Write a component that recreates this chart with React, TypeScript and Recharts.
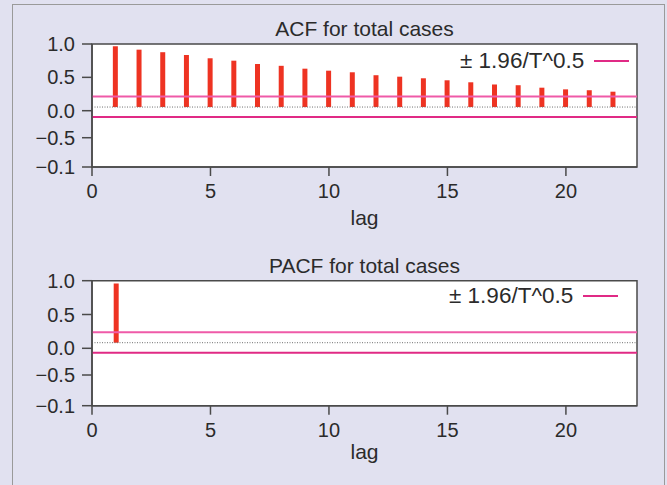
import React from 'react';
import { ComposedChart, Bar, XAxis, YAxis, ReferenceLine, ReferenceArea, Legend } from 'recharts';

// ---- data ----
const lags = [1, 2, 3, 4, 5, 6, 7, 8, 9, 10, 11, 12, 13, 14, 15, 16, 17, 18, 19, 20, 21, 22];
const acfValues = [0.966, 0.915, 0.877, 0.835, 0.786, 0.75, 0.70, 0.673, 0.63, 0.60, 0.576, 0.532, 0.51, 0.486, 0.456, 0.426, 0.393, 0.382, 0.345, 0.32, 0.307, 0.285];
const pacfLags = [1];
const pacfValues = [0.96];
const xTicks = [0, 5, 10, 15, 20];
const yTickLabels = ['1.0', '0.5', '0.0', '\u22120.5', '\u22120.1'];
const acfYTicks = [1.0, 0.5, 0.0, -0.405, -0.844];
const pacfYTicks = [1.0, 0.5, 0.0, -0.395, -0.849];
const acfBase = 0.055;
const acfBand = [0.213, -0.094];
const pacfBase = 0.083;
const pacfBand = [0.237, -0.065];
const acfTitle = 'ACF for total cases';
const pacfTitle = 'PACF for total cases';
const legendLabel = '\u00b1 1.96/T^0.5';
const xLabel = 'lag';

const FONT = '"Liberation Sans", Arial, Helvetica, sans-serif';
const TEXT = '#2b2b2b';
const BAR = '#ee3322';
const PINK_UP = '#ef5aa8';
const PINK_LO = '#e02a85';
const AXIS = '#4a4a4a';

type PanelProps = {
  title: string;
  xs: number[];
  values: number[];
  base: number;
  band: number[];
  yTicks: number[];
  top: number;
  marginTop: number;
  plotHeight: number;
  lagOffset: number;
  titleY: number;
  legendTop: number;
  legendLeft: number;
};

const LegendContent = () => (
  <div style={{ display: 'flex', alignItems: 'center', fontFamily: FONT, fontSize: 22.5, color: TEXT, whiteSpace: 'nowrap' }}>
    <span>{legendLabel}</span>
    <svg width={44} height={6} style={{ marginLeft: 10 }}>
      <line x1={0} y1={3} x2={35} y2={3} stroke={PINK_LO} strokeWidth={2} />
    </svg>
  </div>
);

const Panel = (p: PanelProps) => {
  const data = p.xs.map((lag, i) => ({ lag, range: [p.base, p.values[i]] }));
  const H = 240;
  const yMin = p.yTicks[p.yTicks.length - 1];
  const axisH = H - p.marginTop - p.plotHeight;
  return (
    <div style={{ position: 'absolute', left: 0, top: p.top, width: 667, height: H }}>
      <ComposedChart width={667} height={H} data={data} margin={{ top: p.marginTop, right: 30, bottom: 0, left: 20 }}>
        <XAxis
          type="number"
          dataKey="lag"
          domain={[0, 23]}
          ticks={xTicks}
          allowDataOverflow
          height={axisH}
          tickSize={9}
          tickMargin={8}
          stroke={AXIS}
          strokeWidth={1.5}
          tick={{ fill: TEXT, fontSize: 20, fontFamily: FONT }}
          label={{ value: xLabel, position: 'insideBottom', offset: p.lagOffset, fill: TEXT, fontSize: 21, fontFamily: FONT }}
        />
        <YAxis
          type="number"
          domain={[yMin, 1.0]}
          ticks={p.yTicks}
          interval={0}
          allowDataOverflow
          width={72}
          tickSize={10}
          tickMargin={7}
          stroke={AXIS}
          strokeWidth={1.5}
          tickFormatter={(_v: number, i: number) => yTickLabels[i]}
          tick={{ fill: TEXT, fontSize: 20, fontFamily: FONT }}
        />
        <ReferenceArea x1={0} x2={23} y1={yMin} y2={1.0} fill="#ffffff" fillOpacity={1} stroke={AXIS} strokeWidth={1.5} ifOverflow="visible" />
        <ReferenceLine y={p.base} stroke="#6f6f6f" strokeWidth={1} strokeDasharray="1 1.5" />
        <ReferenceLine y={p.band[0]} stroke={PINK_UP} strokeWidth={2} />
        <ReferenceLine y={p.band[1]} stroke={PINK_LO} strokeWidth={2} />
        <Bar dataKey="range" fill={BAR} barSize={5} isAnimationActive={false} />
        <Legend
          layout="horizontal"
          verticalAlign="middle"
          align="center"
          content={LegendContent}
          wrapperStyle={{ position: 'absolute', top: p.legendTop, left: p.legendLeft, width: 'auto', right: 'auto' }}
        />
        <text x={364.5} y={p.titleY} textAnchor="middle" fill={TEXT} fontSize={21} fontFamily={FONT}>
          {p.title}
        </text>
      </ComposedChart>
    </div>
  );
};

export default function App() {
  return (
    <div style={{ position: 'absolute', left: 0, top: 0, width: 667, height: 485, background: '#e1e1f0', overflow: 'hidden' }}>
      <div style={{ position: 'absolute', left: 12, top: 4, width: 653, height: 500, border: '1px solid #9a9a9a', boxSizing: 'border-box' }} />
      <Panel
        title={acfTitle}
        xs={lags}
        values={acfValues}
        base={acfBase}
        band={acfBand}
        yTicks={acfYTicks}
        top={0}
        marginTop={44}
        plotHeight={123}
        lagOffset={15}
        titleY={36}
        legendTop={48}
        legendLeft={460}
      />
      <Panel
        title={pacfTitle}
        xs={pacfLags}
        values={pacfValues}
        base={pacfBase}
        band={pacfBand}
        yTicks={pacfYTicks}
        top={240}
        marginTop={40.7}
        plotHeight={125}
        lagOffset={21}
        titleY={33}
        legendTop={43}
        legendLeft={449}
      />
    </div>
  );
}
